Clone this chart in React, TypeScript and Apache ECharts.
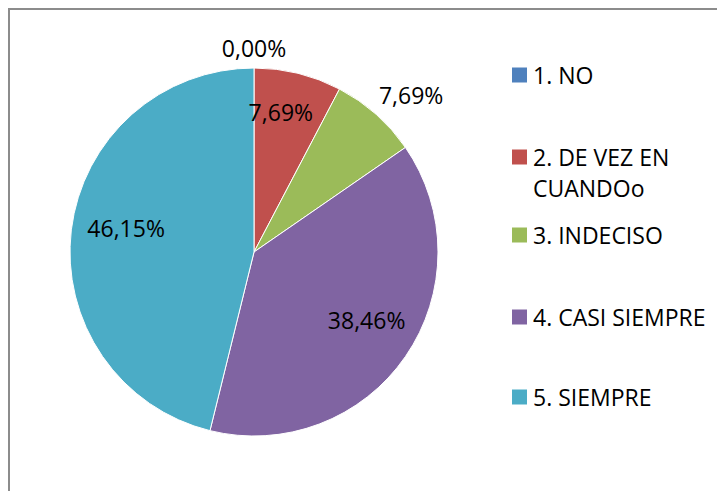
import React, { useEffect, useRef } from "react";
import * as echarts from "echarts";

const categories = ["1. NO", "2. DE VEZ EN\nCUANDOo", "3. INDECISO", "4. CASI SIEMPRE", "5. SIEMPRE"];
const values = [0.0, 7.69, 7.69, 38.46, 46.15];
const colors = ["#4F81BD", "#C0504D", "#9BBB59", "#8064A2", "#4BACC6"];

// layout: label radius factor and angle shift (deg) per slice
const labelRadius = [1.11, 0.775, 1.207, 0.715, 0.707];
const labelShift = [0, -3, 3.5, -3.5, 3.7];
const legendY = [65, 147, 225, 307, 387];

const CX = 244;
const CY = 242;
const R = 184;
const FONT = "Open Sans";

function fmt(v: number) {
  return v.toFixed(2).replace(".", ",") + "%";
}

export default function App() {
  const ref = useRef<HTMLDivElement>(null);
  useEffect(() => {
    if (!ref.current) return;
    const chart = echarts.init(ref.current, undefined, { renderer: "svg" });
    const total = values.reduce((a, b) => a + b, 0);
    const mids: number[] = [];
    let acc = 0;
    values.forEach((v) => {
      mids.push(((acc + v / 2) / total) * 360);
      acc += v;
    });

    const graphic: any[] = [];
    categories.forEach((c, i) => {
      graphic.push({
        type: "rect",
        left: 502,
        top: legendY[i] - 7.5,
        shape: { width: 15, height: 15 },
        style: { fill: colors[i] },
      });
      graphic.push({
        type: "text",
        left: 523,
        top: legendY[i] - 15.5,
        style: {
          text: c,
          fill: "#000",
          font: `23px "${FONT}"`,
          lineHeight: 31,
        },
      });
    });

    chart.setOption({
      animation: false,
      backgroundColor: "#fff",
      graphic,
      series: [
        {
          type: "pie",
          center: [CX, CY],
          radius: [0, R],
          startAngle: 90,
          clockwise: true,
          silent: true,
          itemStyle: { borderColor: "#fff", borderWidth: 1 },
          label: {
            show: true,
            position: "inside",
            formatter: (p: any) => fmt(p.value),
            color: "#000",
            fontFamily: FONT,
            fontSize: 23,
          },
          labelLine: { show: false },
          labelLayout: (p: any) => {
            const i = p.dataIndex;
            const a = ((mids[i] + labelShift[i]) * Math.PI) / 180;
            const r = R * labelRadius[i];
            return {
              x: CX + r * Math.sin(a),
              y: CY - r * Math.cos(a),
              align: "center",
              verticalAlign: "middle",
            };
          },
          data: categories.map((c, i) => ({
            name: c,
            value: values[i],
            itemStyle: { color: colors[i] },
          })),
        },
      ],
    });
    return () => chart.dispose();
  }, []);
  return (
    <div
      ref={ref}
      style={{
        width: 715,
        height: 481,
        borderLeft: "2px solid #8c8c8c",
        borderTop: "2px solid #8c8c8c",
      }}
    />
  );
}
